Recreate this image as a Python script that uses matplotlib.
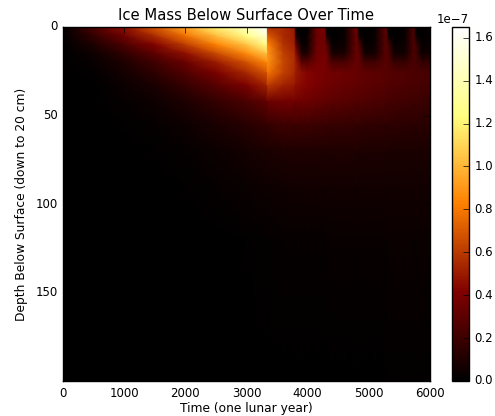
import numpy as np
import matplotlib
matplotlib.use('Agg')
import matplotlib.pyplot as plt

plt.style.use('classic')

#%% ice mass (units of 1e-7), one list per depth level
# after ~3340 the surface layer is gone and dark streaks come back each cycle
times = [0, 500, 1000, 1500, 2000, 2500, 3000, 3330,
         3345, 3600, 3780,
         3810, 3900, 3990, 4150, 4280,
         4310, 4400, 4600, 4780, 4810,
         4840, 4930, 5100, 5260, 5290,
         5320, 5410, 5590, 5720, 5740,
         5770, 5860, 6000]
depths = [0, 5, 10, 15, 20, 26, 33, 42, 55, 70, 90, 120, 200]

d0 = [0, 0.25, 0.47, 0.7, 0.95, 1.2, 1.45, 1.65,
      0.55, 0.55, 0.5,
      0.0, 0.0, 0.03, 0.35, 0.4,
      0.0, 0.0, 0.03, 0.33, 0.35,
      0.0, 0.0, 0.03, 0.28, 0.3,
      0.0, 0.0, 0.03, 0.24, 0.25,
      0.0, 0.0, 0.03]
d5 = [0, 0.17, 0.36, 0.56, 0.78, 1.02, 1.27, 1.5,
      0.7, 0.55, 0.5,
      0.08, 0.0, 0.03, 0.35, 0.38,
      0.07, 0.0, 0.03, 0.32, 0.34,
      0.06, 0.0, 0.03, 0.28, 0.29,
      0.05, 0.0, 0.03, 0.24, 0.25,
      0.05, 0.0, 0.03]
d10 = [0, 0.1, 0.25, 0.42, 0.61, 0.83, 1.05, 1.27,
       0.85, 0.58, 0.52,
       0.3, 0.02, 0.04, 0.35, 0.37,
       0.28, 0.02, 0.04, 0.31, 0.33,
       0.25, 0.02, 0.04, 0.27, 0.28,
       0.22, 0.02, 0.04, 0.23, 0.24,
       0.2, 0.02, 0.04]
d15 = [0, 0.05, 0.16, 0.3, 0.46, 0.65, 0.86, 1.05,
       0.9, 0.62, 0.55,
       0.45, 0.1, 0.1, 0.36, 0.38,
       0.36, 0.08, 0.08, 0.31, 0.33,
       0.31, 0.07, 0.07, 0.27, 0.28,
       0.27, 0.06, 0.06, 0.23, 0.24,
       0.23, 0.05, 0.06]
d20 = [0, 0.03, 0.1, 0.21, 0.34, 0.5, 0.68, 0.85,
       0.88, 0.64, 0.56,
       0.5, 0.3, 0.28, 0.38, 0.39,
       0.36, 0.25, 0.24, 0.32, 0.33,
       0.31, 0.22, 0.21, 0.28, 0.28,
       0.27, 0.19, 0.18, 0.24, 0.24,
       0.23, 0.17, 0.17]
d26 = [0, 0.015, 0.07, 0.15, 0.26, 0.39, 0.54, 0.68,
       0.78, 0.62, 0.55,
       0.5, 0.46, 0.43, 0.4, 0.39,
       0.38, 0.37, 0.35, 0.34, 0.33,
       0.32, 0.31, 0.3, 0.29, 0.28,
       0.28, 0.27, 0.26, 0.25, 0.25,
       0.24, 0.24, 0.23]
d33 = [0, 0.005, 0.04, 0.09, 0.18, 0.28, 0.4, 0.52,
       0.6, 0.52, 0.49,
       0.46, 0.44, 0.42, 0.39, 0.37,
       0.36, 0.35, 0.33, 0.32, 0.31,
       0.31, 0.3, 0.29, 0.28, 0.27,
       0.27, 0.26, 0.25, 0.24, 0.24,
       0.24, 0.23, 0.22]
d42 = [0, 0, 0.02, 0.05, 0.1, 0.17, 0.24, 0.31,
       0.35, 0.37, 0.37,
       0.36, 0.36, 0.35, 0.33, 0.32,
       0.31, 0.3, 0.29, 0.27, 0.27,
       0.27, 0.26, 0.25, 0.24, 0.23,
       0.23, 0.22, 0.21, 0.2, 0.2,
       0.2, 0.19, 0.18]
d55 = [0, 0, 0.008, 0.025, 0.05, 0.09, 0.13, 0.17,
       0.18, 0.2, 0.2,
       0.2, 0.2, 0.2, 0.19, 0.19,
       0.19, 0.18, 0.18, 0.17, 0.17,
       0.17, 0.16, 0.16, 0.15, 0.15,
       0.15, 0.15, 0.14, 0.14, 0.14,
       0.14, 0.13, 0.13]
d70 = [0, 0, 0.003, 0.01, 0.025, 0.045, 0.065, 0.085,
       0.09, 0.1, 0.1,
       0.1, 0.1, 0.1, 0.1, 0.1,
       0.1, 0.1, 0.1, 0.1, 0.1,
       0.095, 0.095, 0.095, 0.095, 0.095,
       0.09, 0.09, 0.09, 0.09, 0.09,
       0.09, 0.09, 0.09]
d90 = [0, 0, 0, 0.004, 0.01, 0.02, 0.035, 0.05,
       0.05, 0.055, 0.06,
       0.06, 0.06, 0.06, 0.06, 0.06,
       0.06, 0.06, 0.06, 0.06, 0.06,
       0.06, 0.06, 0.06, 0.06, 0.06,
       0.06, 0.06, 0.06, 0.06, 0.06,
       0.06, 0.06, 0.06]
d120 = [0, 0, 0, 0, 0.002, 0.005, 0.01, 0.015,
        0.015, 0.02, 0.02,
        0.022, 0.022, 0.023, 0.024, 0.025,
        0.026, 0.027, 0.028, 0.029, 0.03,
        0.03, 0.03, 0.031, 0.032, 0.032,
        0.033, 0.033, 0.034, 0.034, 0.034,
        0.035, 0.035, 0.035]
d200 = [0, 0, 0, 0, 0, 0, 0, 0,
        0, 0.002, 0.002,
        0.002, 0.003, 0.003, 0.003, 0.003,
        0.004, 0.004, 0.005, 0.005, 0.005,
        0.005, 0.006, 0.006, 0.006, 0.006,
        0.007, 0.007, 0.008, 0.008, 0.008,
        0.008, 0.009, 0.01]

cbar_ticks = [0.0, 0.2, 0.4, 0.6, 0.8, 1.0, 1.2, 1.4, 1.6]

#%%
ice = np.array([d0, d5, d10, d15, d20, d26, d33, d42, d55, d70, d90, d120, d200]) * 1e-7
X, Y = np.meshgrid(times, depths)

fig = plt.figure(figsize=(4.95, 4.16), dpi=100, facecolor='w')
ax = fig.add_axes([63/495, 35/416, 367/495, 354/416])
mesh = ax.pcolormesh(X, Y, ice, shading='gouraud', cmap='afmhot',
                     vmin=0, vmax=1.65e-7)
ax.set_xlim(0, 6000)
ax.set_ylim(200, 0)
ax.set_yticks([0, 50, 100, 150])
ax.set_xticks([0, 1000, 2000, 3000, 4000, 5000, 6000])
ax.tick_params(labelsize=8.5)
ax.set_title('Ice Mass Below Surface Over Time', fontsize=10.6)
ax.set_xlabel('Time (one lunar year)', fontsize=8.8, labelpad=2)
ax.set_ylabel('Depth Below Surface (down to 20 cm)', fontsize=8.8)

cax = fig.add_axes([452/495, 35/416, 17/495, 354/416])
cb = fig.colorbar(mesh, cax=cax, ticks=[v * 1e-7 for v in cbar_ticks])
cb.ax.tick_params(labelsize=8.5)
cb.ax.yaxis.get_offset_text().set_fontsize(8.5)

fig.savefig('out.png', dpi=100, facecolor='w')
